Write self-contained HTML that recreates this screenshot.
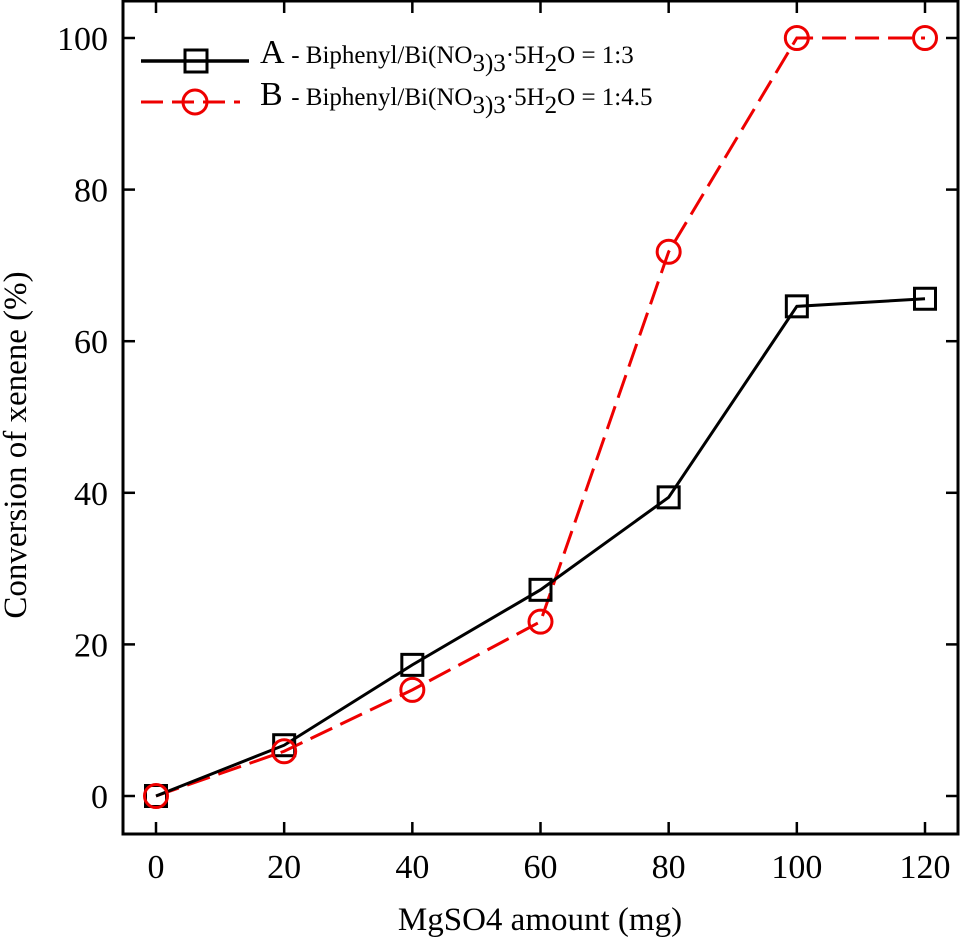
<!DOCTYPE html>
<html><head><meta charset="utf-8"><style>
html,body{margin:0;padding:0;background:#fff;}
svg{display:block;font-family:"Liberation Serif",serif;}
</style></head><body>
<svg id="chart" width="960" height="942"></svg>
<script>
const categories=[0,20,40,60,80,100,120];
const seriesA=[0,6.7,17.3,27.2,39.4,64.6,65.6];
const seriesB=[0,5.9,14.0,23.0,71.8,100,100];
const yTicks=[0,20,40,60,80,100];
const NS="http://www.w3.org/2000/svg";
const svg=document.getElementById('chart');
function xs(v){return 156+(v-0)*(925-156)/120;}
function ys(v){return 796-v*(796-38)/100;}
function mk(t,a,p){const e=document.createElementNS(NS,t);for(const k in a)e.setAttribute(k,a[k]);(p||svg).appendChild(e);return e;}
const frame=mk('rect',{x:123,y:1,width:835,height:833,fill:'none',stroke:'#000','stroke-width':3});


categories.forEach(c=>{
  const x=xs(c);
  const t1=mk('line',{x1:x,x2:x,y1:834,y2:822,stroke:'#000','stroke-width':2.5});
  
  
  mk('line',{x1:x,x2:x,y1:1,y2:13,stroke:'#000','stroke-width':2.5});
  const l=mk('text',{x:x,y:878,'text-anchor':'middle','font-size':34});
  l.textContent=c;
  
  
});
yTicks.forEach(v=>{
  const y=ys(v);
  const t1=mk('line',{x1:123,x2:135,y1:y,y2:y,stroke:'#000','stroke-width':2.5});
  
  
  mk('line',{x1:958,x2:946,y1:y,y2:y,stroke:'#000','stroke-width':2.5});
  const l=mk('text',{x:108,y:y+12,'text-anchor':'end','font-size':34});
  l.textContent=v;
  
  
});
const xt=mk('text',{x:540,y:930,'text-anchor':'middle','font-size':33});
xt.textContent='MgSO4 amount (mg)';


const yt=mk('text',{x:0,y:0,'text-anchor':'middle','font-size':33,transform:'translate(26,445) rotate(-90)'});
yt.textContent='Conversion of xenene (%)';


function pts(arr){return arr.map((v,i)=>xs(categories[i])+','+ys(v)).join(' ');}
const lb=mk('polyline',{points:pts(seriesB),fill:'none',stroke:'#e00','stroke-width':3,'stroke-dasharray':'24,9'});


const la=mk('polyline',{points:pts(seriesA),fill:'none',stroke:'#000','stroke-width':3});


seriesA.forEach((v,i)=>{
  const m=mk('rect',{x:xs(categories[i])-10.5,y:ys(v)-10.5,width:21,height:21,fill:'none',stroke:'#000','stroke-width':3});
  
  
});
seriesB.forEach((v,i)=>{
  const m=mk('circle',{cx:xs(categories[i]),cy:ys(v),r:11.5,fill:'none',stroke:'#e00','stroke-width':3},);
  
  
});
const lg=mk('g',{});


mk('line',{x1:141,x2:249,y1:61,y2:61,stroke:'#000','stroke-width':3.5},lg);
mk('rect',{x:185,y:50,width:22,height:22,fill:'none',stroke:'#000','stroke-width':3},lg);
mk('line',{x1:141,x2:240,y1:102,y2:102,stroke:'#e00','stroke-width':3,'stroke-dasharray':'22,9'},lg);
mk('circle',{cx:195,cy:102,r:12,fill:'none',stroke:'#e00','stroke-width':3},lg);
function legText(y,letter,ratio){
  const t=mk('text',{x:260,y:y,'font-size':34},lg);
  t.innerHTML=letter+' <tspan font-size="25">- Biphenyl/Bi(NO<tspan dy="8">3</tspan><tspan dy="0">)</tspan><tspan dy="0">3</tspan><tspan dy="-8">·5H</tspan><tspan dy="8">2</tspan><tspan dy="-8">O = '+ratio+'</tspan></tspan>';
  
  
}
legText(63,'A','1:3');
legText(105,'B','1:4.5');
</script>
</body></html>
